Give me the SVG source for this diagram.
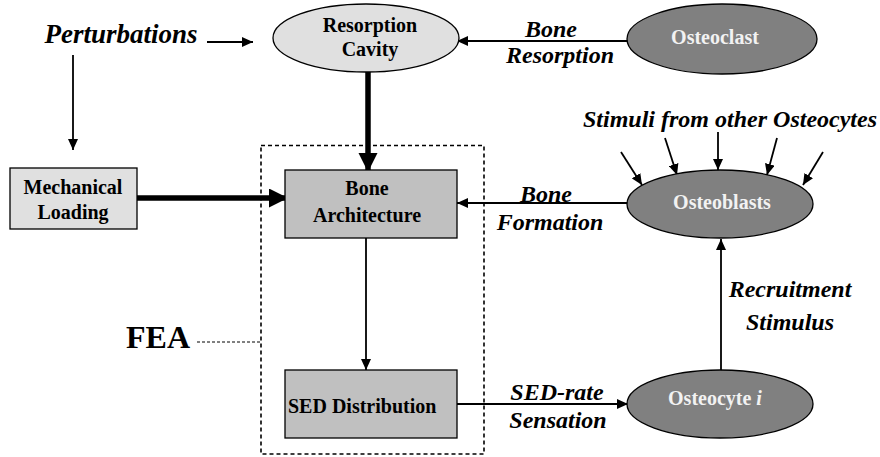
<svg xmlns="http://www.w3.org/2000/svg" width="880" height="457" viewBox="0 0 880 457">
<style>
text{font-weight:bold;text-anchor:middle}
.n{font-size:20px;fill:#000}
.w{font-size:20px;fill:#f2f2f2}
.e{font-size:24px;font-style:italic;fill:#000}
.ln{stroke:#000;stroke-width:1.8;fill:none}
.thk{stroke:#000;stroke-width:5.5;fill:none}
.light{fill:#e0e0e0;stroke:#000;stroke-width:1.3}
.mid{fill:#c0c0c0;stroke:#000;stroke-width:1.3}
.dark{fill:#808080;stroke:#000;stroke-width:1.3}
</style>
<defs>
<marker id="a" markerUnits="userSpaceOnUse" markerWidth="12" markerHeight="10" refX="11" refY="5" orient="auto"><path d="M0,0 L11,5 L0,10 Z" fill="#000"/></marker>
<marker id="A" markerUnits="userSpaceOnUse" markerWidth="20" markerHeight="20" refX="19" refY="9.5" orient="auto"><path d="M0,0 L19,9.5 L0,19 Z" fill="#000"/></marker>
</defs>
<g font-family="Liberation Serif, serif">
<g id="fea-box">
<rect x="261" y="145.5" width="223" height="308.5" fill="none" stroke="#000" stroke-width="1.6" stroke-dasharray="4,3"/>
<line x1="197" y1="342" x2="261" y2="342" stroke="#000" stroke-width="1" stroke-dasharray="3,2"/>
<text x="158" y="348" style="font-size:32px">FEA</text>
</g>
<g id="connectors">
<line class="ln" x1="207" y1="42" x2="253" y2="42" marker-end="url(#a)"/>
<line class="ln" x1="73" y1="55" x2="73" y2="150" marker-end="url(#a)"/>
<line class="ln" x1="628" y1="41" x2="457" y2="41" marker-end="url(#a)"/>
<line class="thk" x1="368" y1="72" x2="368" y2="172" marker-end="url(#A)"/>
<line class="thk" x1="137" y1="198" x2="288" y2="198" marker-end="url(#A)"/>
<line class="ln" x1="628" y1="203" x2="457" y2="203" marker-end="url(#a)"/>
<line class="ln" x1="366" y1="238" x2="366" y2="370" marker-end="url(#a)"/>
<line class="ln" x1="457" y1="404" x2="628" y2="404" marker-end="url(#a)"/>
<line class="ln" x1="721" y1="371" x2="721" y2="239" marker-end="url(#a)"/>
<line class="ln" x1="621" y1="152" x2="642" y2="185" marker-end="url(#a)"/>
<line class="ln" x1="665" y1="138" x2="677" y2="175" marker-end="url(#a)"/>
<line class="ln" x1="718" y1="132" x2="718" y2="170" marker-end="url(#a)"/>
<line class="ln" x1="777" y1="138" x2="767" y2="175" marker-end="url(#a)"/>
<line class="ln" x1="823" y1="152" x2="803" y2="185" marker-end="url(#a)"/>
<text class="e" x="551" y="37">Bone</text>
<text class="e" x="560" y="63">Resorption</text>
<text class="e" x="546" y="202">Bone</text>
<text class="e" x="550" y="230">Formation</text>
<text class="e" x="557" y="400">SED-rate</text>
<text class="e" x="558" y="428">Sensation</text>
<text class="e" x="790" y="297">Recruitment</text>
<text class="e" x="790" y="330">Stimulus</text>
</g>
<g id="perturbations">
<text x="121" y="43" style="font-size:27px;font-style:italic">Perturbations</text>
</g>
<g id="stimuli">
<text class="e" x="730" y="127">Stimuli from other Osteocytes</text>
</g>
<g id="resorption-cavity">
<ellipse class="light" cx="366" cy="38" rx="93" ry="34"/>
<text class="n" x="370" y="32">Resorption</text>
<text class="n" x="370" y="56">Cavity</text>
</g>
<g id="osteoclast">
<ellipse class="dark" cx="722" cy="39" rx="95" ry="35"/>
<text class="w" x="715" y="44">Osteoclast</text>
</g>
<g id="mechanical-loading">
<rect class="light" x="10" y="168" width="127" height="61"/>
<text class="n" x="73" y="194">Mechanical</text>
<text class="n" x="73" y="219">Loading</text>
</g>
<g id="bone-architecture">
<rect class="mid" x="285" y="170" width="172" height="68"/>
<text class="n" x="367" y="195">Bone</text>
<text class="n" x="367" y="222">Architecture</text>
</g>
<g id="osteoblasts">
<ellipse class="dark" cx="720" cy="204" rx="93" ry="34"/>
<text class="w" x="722" y="209">Osteoblasts</text>
</g>
<g id="sed-distribution">
<rect class="mid" x="285" y="370" width="172" height="68"/>
<text class="n" x="288" y="413" style="text-anchor:start">SED Distribution</text>
</g>
<g id="osteocyte">
<ellipse class="dark" cx="720" cy="404" rx="93" ry="34"/>
<text class="w" x="715" y="405">Osteocyte <tspan style="font-style:italic">i</tspan></text>
</g>
</g>
</svg>
